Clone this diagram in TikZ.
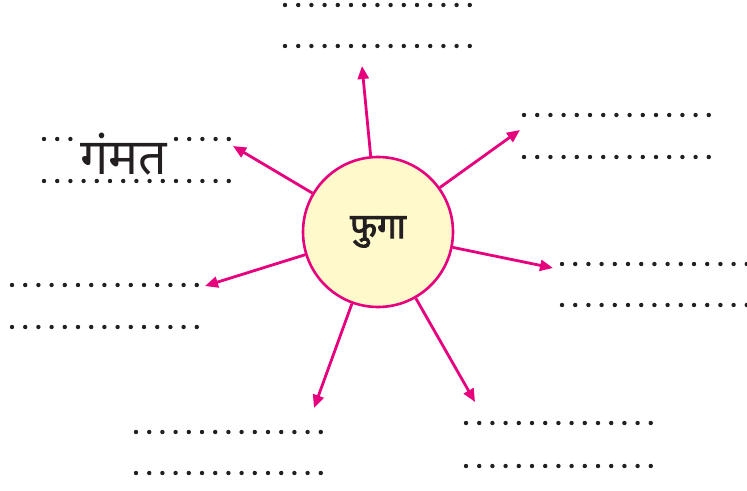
\documentclass[tikz,border=0pt]{standalone}
\usepackage{fontspec}
\newfontfamily\devfont[Script=Devanagari]{Noto Sans}
\newfontfamily\devbold[Script=Devanagari,FakeBold=2.5]{Noto Sans}
\usetikzlibrary{arrows.meta}
\definecolor{pinkline}{RGB}{230,0,126}
\definecolor{paleyellow}{RGB}{255,249,204}
\definecolor{inkgray}{RGB}{35,31,32}
\tikzset{
  spoke/.style={draw=pinkline, line width=2.8pt, -{Triangle[length=13pt,width=11pt]}},
  balloon/.style={circle, draw=pinkline, line width=2.6pt, fill=paleyellow, minimum size=150pt, inner sep=0pt}
}
\newcommand{\dotrow}[2]{\foreach \k in {0,...,14} \fill[inkgray] (#1+\k*13.2,#2) circle (2.2);}

\begin{document}
\begin{tikzpicture}[x=1pt,y=-1pt]
    \useasboundingbox (0,0) rectangle (747,490);
    % dotted answer lines
    \dotrow{285}{5}    \dotrow{285}{46}
    \dotrow{524}{115}  \dotrow{524}{157}
    \dotrow{562}{264}  \dotrow{562}{305}
    \dotrow{466}{423}  \dotrow{466}{466}
    \dotrow{136}{432}  \dotrow{136}{473}
    \dotrow{12}{285}   \dotrow{12}{327}
    \dotrow{44}{139}   \dotrow{44}{181}
    % filled-in word
    \node[fill=white, inner sep=1pt, anchor=base, text=inkgray] (word) at (124,174) {\devfont\fontsize{50}{50}\selectfont गंमत};
    % centre
    \node[balloon, text=inkgray] (fuga) at (378,232) {\devbold\fontsize{35}{35}\selectfont फुगा};
    % arrow tips
    \coordinate (t1) at (362,66);
    \coordinate (t2) at (520,130);
    \coordinate (t3) at (553,268);
    \coordinate (t4) at (475,402);
    \coordinate (t5) at (314,408);
    \coordinate (t6) at (205,286);
    \coordinate (t7) at (233,146);
    \foreach \t in {t1,t2,t3,t4,t5,t6,t7}
        \draw[spoke] (fuga) -- (\t);
\end{tikzpicture}
\end{document}
